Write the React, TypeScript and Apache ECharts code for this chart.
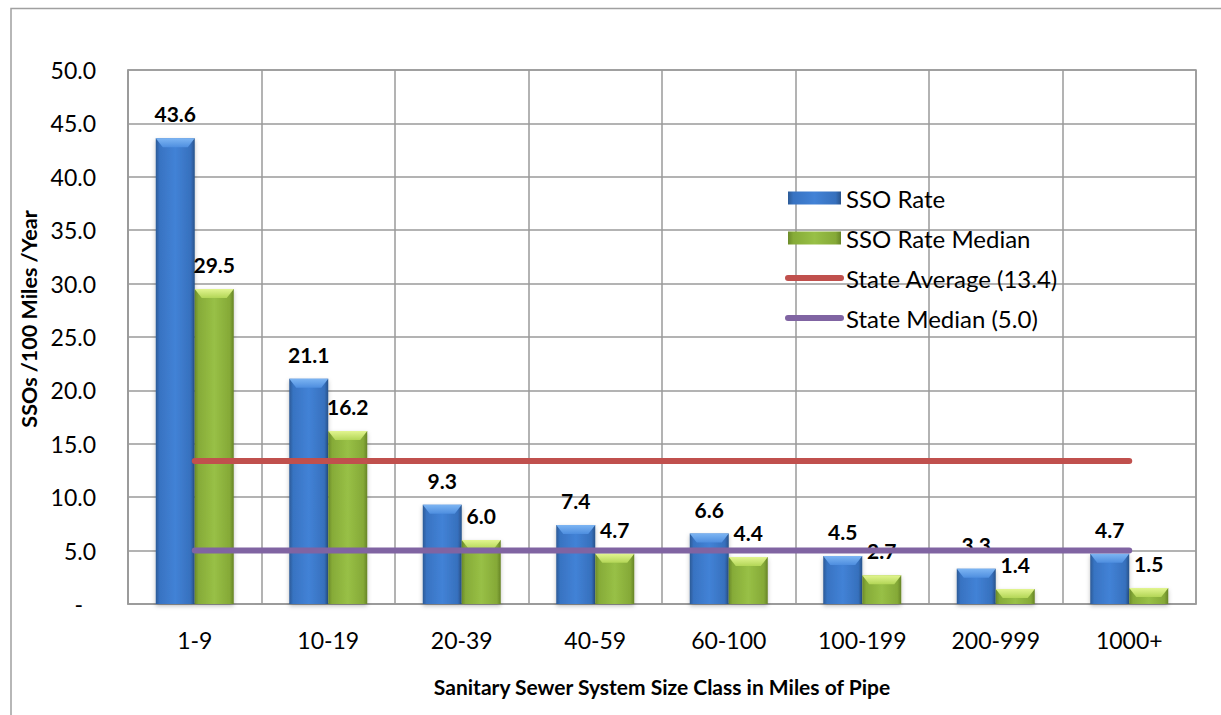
import React, { useEffect, useRef } from "react";
import * as echarts from "echarts";

const categories = ["1-9", "10-19", "20-39", "40-59", "60-100", "100-199", "200-999", "1000+"];
const ssoRate = [43.6, 21.1, 9.3, 7.4, 6.6, 4.5, 3.3, 4.7];
const ssoRateMedian = [29.5, 16.2, 6.0, 4.7, 4.4, 2.7, 1.4, 1.5];
const stateAverage = [13.4, 13.4, 13.4, 13.4, 13.4, 13.4, 13.4, 13.4];
const stateMedian = [5.0, 5.0, 5.0, 5.0, 5.0, 5.0, 5.0, 5.0];

const FONT = "Lato";
const BAR_W = 39;
const GRID_COLOR = "#9a9a9a";

const blueGrad = new echarts.graphic.LinearGradient(0, 0, 1, 0, [
  { offset: 0, color: "#2c5a96" },
  { offset: 0.1, color: "#3873c2" },
  { offset: 0.5, color: "#4282d6" },
  { offset: 0.9, color: "#3670bd" },
  { offset: 1, color: "#28528a" },
]);
const greenGrad = new echarts.graphic.LinearGradient(0, 0, 1, 0, [
  { offset: 0, color: "#6b8a29" },
  { offset: 0.1, color: "#86ab38" },
  { offset: 0.5, color: "#98c046" },
  { offset: 0.9, color: "#85a937" },
  { offset: 1, color: "#668426" },
]);

function bevel(shift: number, top1: string, top2: string) {
  return (params: any, api: any) => {
    const cat = api.value(0);
    const val = api.value(1);
    const p = api.coord([cat, val]);
    const x0 = p[0] + shift;
    const x1 = x0 + BAR_W;
    const y0 = p[1];
    const h = 9;
    return {
      type: "polygon",
      shape: {
        points: [
          [x0, y0],
          [x1, y0],
          [x1 - 7, y0 + h],
          [x0 + 7, y0 + h],
        ],
      },
      style: {
        fill: new echarts.graphic.LinearGradient(0, 0, 0, 1, [
          { offset: 0, color: top1 },
          { offset: 1, color: top2 },
        ]),
      },
    };
  };
}

export default function App() {
  const ref = useRef<HTMLDivElement>(null);
  useEffect(() => {
    const chart = echarts.init(ref.current!, null, { renderer: "svg" });
    const labelStyle = {
      show: true,
      position: "top",
      distance: 14,
      fontFamily: FONT,
      fontWeight: "bold",
      fontSize: 21,
      color: "#000",
      formatter: (p: any) => Number(p.value).toFixed(1),
    };
    const hiddenSymbol = { color: "rgba(0,0,0,0)", borderWidth: 0, opacity: 0 };
    chart.setOption({
      animation: false,
      backgroundColor: "#fff",
      graphic: [
        {
          type: "rect",
          shape: { x: 11, y: 8.5, width: 1230, height: 730 },
          style: { fill: "none", stroke: "#a0a0a0", lineWidth: 1.5 },
          silent: true,
        },
      ],
      grid: {
        left: 128,
        right: 25,
        top: 70,
        bottom: 111,
        show: true,
        borderColor: GRID_COLOR,
        borderWidth: 1.5,
      },
      legend: {
        orient: "vertical",
        left: 780,
        top: 181,
        itemWidth: 53,
        itemHeight: 13,
        itemGap: 16,
        textStyle: { fontFamily: FONT, fontSize: 24, color: "#000", lineHeight: 24 },
        data: [
          { name: "SSO Rate", icon: "rect" },
          { name: "SSO Rate Median", icon: "rect" },
          {
            name: "State Average (13.4)",
            itemStyle: hiddenSymbol,
            lineStyle: { width: 6, cap: "round", color: "#c0504d" },
          },
          {
            name: "State Median (5.0)",
            itemStyle: hiddenSymbol,
            lineStyle: { width: 6, cap: "round", color: "#8064a2" },
          },
        ],
      },
      xAxis: {
        type: "category",
        data: categories,
        boundaryGap: true,
        axisLine: { show: true, lineStyle: { color: GRID_COLOR, width: 1.5 } },
        axisTick: { show: false },
        splitLine: { show: true, interval: 0, lineStyle: { color: GRID_COLOR, width: 1.5 } },
        axisLabel: { fontFamily: FONT, fontSize: 23, color: "#000", margin: 24, interval: 0 },
        name: "Sanitary Sewer System Size Class in Miles of Pipe",
        nameLocation: "middle",
        nameGap: 72,
        nameTextStyle: { fontFamily: FONT, fontWeight: "bold", fontSize: 21, color: "#000" },
      },
      yAxis: {
        type: "value",
        min: 0,
        max: 50,
        interval: 5,
        axisLine: { show: true, lineStyle: { color: GRID_COLOR, width: 1.5 } },
        axisTick: { show: false },
        splitLine: { show: true, lineStyle: { color: GRID_COLOR, width: 1.5 } },
        axisLabel: {
          fontFamily: FONT,
          fontSize: 23,
          color: "#000",
          margin: 32,
          formatter: (v: number) => (v === 0 ? "{z|-}" : v.toFixed(1)),
          rich: { z: { fontFamily: FONT, fontSize: 23, color: "#000", padding: [0, 13, 0, 0] } },
        },
        name: "SSOs /100 Miles /Year",
        nameLocation: "middle",
        nameGap: 88,
        nameTextStyle: { fontFamily: FONT, fontWeight: "bold", fontSize: 21.5, color: "#000", padding: [0, 0, 0, 36] },
      },
      series: [
        {
          name: "SSO Rate",
          type: "bar",
          data: ssoRate,
          barWidth: BAR_W,
          barGap: "0%",
          itemStyle: { color: blueGrad, shadowColor: "rgba(0,0,0,0.25)", shadowBlur: 4, shadowOffsetY: 2 },
          label: labelStyle,
          z: 2,
        },
        {
          name: "SSO Rate Median",
          type: "bar",
          data: ssoRateMedian,
          barWidth: BAR_W,
          barGap: "0%",
          itemStyle: { color: greenGrad, shadowColor: "rgba(0,0,0,0.25)", shadowBlur: 4, shadowOffsetY: 2 },
          label: labelStyle,
          z: 2,
        },
        {
          name: "bevelBlue",
          type: "custom",
          data: ssoRate.map((v, i) => [i, v]),
          encode: { x: 0, y: 1 },
          renderItem: bevel(-BAR_W, "#7db5f3", "#4e8edf"),
          silent: true,
          z: 3,
        },
        {
          name: "bevelGreen",
          type: "custom",
          data: ssoRateMedian.map((v, i) => [i, v]),
          encode: { x: 0, y: 1 },
          renderItem: bevel(0, "#e2f590", "#b3d657"),
          silent: true,
          z: 3,
        },
        {
          name: "State Average (13.4)",
          type: "line",
          data: stateAverage,
          symbol: "none",
          color: "#c0504d",
          lineStyle: { color: "#c0504d", width: 6, cap: "round" },
          z: 4,
        },
        {
          name: "State Median (5.0)",
          type: "line",
          data: stateMedian,
          symbol: "none",
          color: "#8064a2",
          lineStyle: { color: "#8064a2", width: 6, cap: "round" },
          z: 4,
        },
      ],
    });
    return () => chart.dispose();
  }, []);
  return (
    <div
      ref={ref}
      style={{ position: "fixed", left: 0, top: 0, width: 1221, height: 715, background: "#fff" }}
    />
  );
}
